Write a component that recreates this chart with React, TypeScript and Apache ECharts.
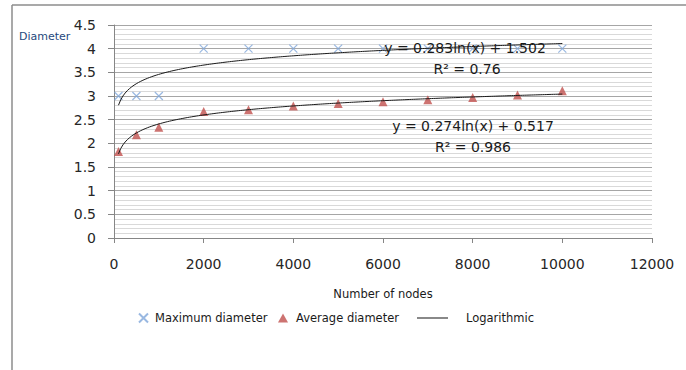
import React, { useEffect, useRef } from "react";
import * as echarts from "echarts";

const nodes = [100, 500, 1000, 2000, 3000, 4000, 5000, 6000, 7000, 8000, 9000, 10000];
const maxDiameter = [3, 3, 3, 4, 4, 4, 4, 4, 4, 4, 4, 4];
const avgDiameter = [1.83, 2.18, 2.34, 2.67, 2.71, 2.79, 2.84, 2.88, 2.92, 2.97, 3.02, 3.11];
const yTicks = ["0", "0.5", "1", "1.5", "2", "2.5", "3", "3.5", "4", "4.5"];
const xTicks = ["0", "2000", "4000", "6000", "8000", "10000", "12000"];
// Trendline coefficients as displayed on the chart: y = a ln(x) + b
const maxTrend = { a: 0.283, b: 1.502, r2: "0.76" };
const avgTrend = { a: 0.274, b: 0.517, r2: "0.986" };
const trendStart = 100;
const trendEnd = 10000;

function trendPoints(t: { a: number; b: number }) {
  const pts: number[][] = [];
  const n = 200;
  for (let i = 0; i <= n; i++) {
    const x = trendStart + ((trendEnd - trendStart) * i) / n;
    pts.push([x, t.a * Math.log(x) + t.b]);
  }
  return pts;
}

const FONT = "DejaVu Sans";

export default function App() {
  const ref = useRef<HTMLDivElement>(null);
  useEffect(() => {
    if (!ref.current) return;
    const chart = echarts.init(ref.current, null, { renderer: "svg" });
    const crossPath = "path://M0,0L10,10M0,10L10,0";
    chart.setOption({
      animation: false,
      backgroundColor: "#ffffff",
      textStyle: { fontFamily: FONT },
      grid: { left: 114, top: 25, right: 34, bottom: 132, containLabel: false },
      xAxis: {
        type: "value",
        min: 0,
        max: 12000,
        interval: 2000,
        name: "Number of nodes",
        nameLocation: "middle",
        nameGap: 50,
        nameTextStyle: { fontSize: 11.5, color: "#1a1a1a", fontFamily: FONT },
        axisLine: { show: true, onZero: false, lineStyle: { color: "#868686", width: 1 } },
        axisTick: { show: true, length: 5, lineStyle: { color: "#868686" } },
        axisLabel: {
          fontSize: 14,
          color: "#262626",
          margin: 19,
          fontFamily: FONT,
          formatter: (v: number) => xTicks[Math.round(v / 2000)] ?? String(v),
        },
        splitLine: { show: false },
      },
      yAxis: {
        type: "value",
        min: 0,
        max: 4.5,
        interval: 0.5,
        axisLine: { show: true, lineStyle: { color: "#868686", width: 1 } },
        axisTick: { show: true, length: 6, lineStyle: { color: "#868686" } },
        axisLabel: {
          fontSize: 14,
          color: "#262626",
          margin: 18,
          fontFamily: FONT,
          formatter: (v: number) => yTicks[Math.round(v / 0.5)] ?? String(v),
        },
        splitLine: { show: true, lineStyle: { color: "#a6a6a6", width: 1 } },
        minorTick: { show: false, splitNumber: 5 },
        minorSplitLine: { show: true, lineStyle: { color: "#d9d9d9", width: 1 } },
      },
      legend: [
        {
          left: 133,
          top: 307,
          itemWidth: 9,
          itemHeight: 9,
          itemGap: 0,
          data: ["Maximum diameter"],
          textStyle: { fontSize: 11.5, color: "#1a1a1a", fontFamily: FONT, padding: [0, 0, 0, 2] },
        },
        {
          left: 273,
          top: 307,
          itemWidth: 10,
          itemHeight: 9,
          itemGap: 0,
          data: ["Average diameter"],
          textStyle: { fontSize: 11.5, color: "#1a1a1a", fontFamily: FONT, padding: [0, 0, 0, 3] },
        },
        {
          left: 412,
          top: 307,
          itemWidth: 31,
          itemHeight: 1.2,
          itemGap: 0,
          data: [{ name: "Logarithmic", icon: "rect" }],
          itemStyle: { color: "#3a3a3a" },
          textStyle: { fontSize: 11.5, color: "#1a1a1a", fontFamily: FONT, padding: [0, 0, 0, 13] },
        },
      ],
      series: [
        {
          name: "Maximum diameter",
          type: "scatter",
          symbol: crossPath,
          symbolSize: 8,
          itemStyle: { color: "rgba(0,0,0,0)", borderColor: "#7fa6d9", borderWidth: 1.2 },
          data: nodes.map((x, i) => [x, maxDiameter[i]]),
          z: 3,
        },
        {
          name: "Average diameter",
          type: "scatter",
          symbol: "triangle",
          symbolSize: 9,
          itemStyle: { color: "#c0504d" },
          data: nodes.map((x, i) => [x, avgDiameter[i]]),
          z: 3,
        },
        {
          name: "Logarithmic",
          type: "line",
          symbol: "none",
          showSymbol: false,
          lineStyle: { color: "#1a1a1a", width: 1 },
          itemStyle: { color: "#1a1a1a" },
          data: trendPoints(maxTrend),
          z: 4,
        },
        {
          name: "Logarithmic",
          type: "line",
          symbol: "none",
          showSymbol: false,
          lineStyle: { color: "#1a1a1a", width: 1 },
          itemStyle: { color: "#1a1a1a" },
          data: trendPoints(avgTrend),
          z: 4,
        },
      ],
      graphic: [
        { type: "line", shape: { x1: 12, y1: 5, x2: 12, y2: 370 }, style: { stroke: "#8c8c8c", lineWidth: 1.5 } },
        { type: "line", shape: { x1: 12, y1: 5, x2: 686, y2: 5 }, style: { stroke: "#8c8c8c", lineWidth: 1.5 } },
        {
          type: "text",
          left: 19,
          top: 31,
          style: { text: "Diameter", fontSize: 11, fill: "#1f497d", fontFamily: FONT },
        },
        {
          type: "text",
          x: 465,
          y: 48,
          style: {
            text: `y = ${maxTrend.a}ln(x) + ${maxTrend.b}`,
            fontSize: 14,
            fill: "#1a1a1a",
            fontFamily: FONT,
            align: "center",
            verticalAlign: "middle",
          },
          z: 10,
        },
        {
          type: "text",
          x: 467,
          y: 69,
          style: {
            text: `R² = ${maxTrend.r2}`,
            fontSize: 14,
            fill: "#1a1a1a",
            fontFamily: FONT,
            align: "center",
            verticalAlign: "middle",
          },
          z: 10,
        },
        {
          type: "text",
          x: 473,
          y: 126,
          style: {
            text: `y = ${avgTrend.a}ln(x) + ${avgTrend.b}`,
            fontSize: 14,
            fill: "#1a1a1a",
            fontFamily: FONT,
            align: "center",
            verticalAlign: "middle",
          },
          z: 10,
        },
        {
          type: "text",
          x: 473,
          y: 147,
          style: {
            text: `R² = ${avgTrend.r2}`,
            fontSize: 14,
            fill: "#1a1a1a",
            fontFamily: FONT,
            align: "center",
            verticalAlign: "middle",
          },
          z: 10,
        },
      ],
    });
    return () => chart.dispose();
  }, []);
  return (
    <div
      ref={ref}
      style={{ position: "fixed", left: 0, top: 0, width: 686, height: 370 }}
    />
  );
}
